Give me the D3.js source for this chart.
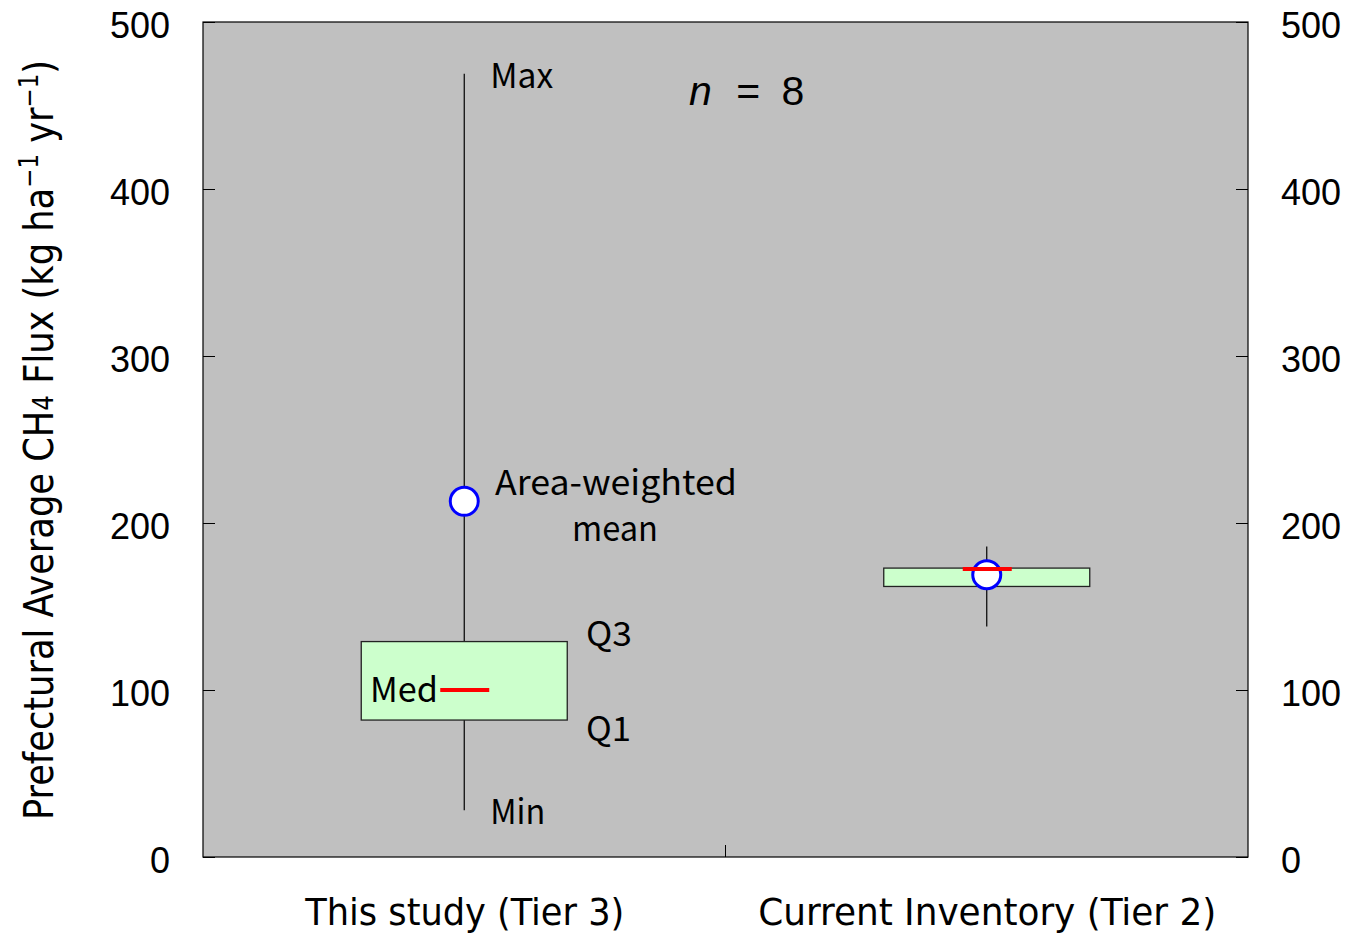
<!DOCTYPE html>
<html><head><meta charset="utf-8">
<script src="https://cdn.jsdelivr.net/npm/d3@7"></script>
<style>body{margin:0;background:#fff}</style>
</head><body>
<script>
const categories = ["This study (Tier 3)", "Current Inventory (Tier 2)"];
const minV  = [28, 138];
const q1V   = [82, 162];
const medV  = [100, 172.5];
const q3V   = [129, 173];
const maxV  = [469, 186];
const meanV = [213, 169];
const yTicks = [0, 100, 200, 300, 400, 500];

const W = 1346, H = 934;
const m = {l:203, r:1248, t:22, b:857};
const svg = d3.select("body").append("svg").attr("width", W).attr("height", H);
const x = d3.scalePoint().domain(categories).range([m.l, m.r]).padding(0.5);
const y = d3.scaleLinear().domain([0, 500]).range([m.b, m.t]);

svg.append("rect").attr("x", m.l).attr("y", m.t).attr("width", m.r - m.l).attr("height", m.b - m.t)
  .attr("fill", "#c0c0c0").attr("stroke", "#000").attr("stroke-width", 1.2);

const tickFont = "'Liberation Sans', Arial, sans-serif";
const gl = svg.append("g").attr("transform", `translate(${m.l},0)`)
  .call(d3.axisLeft(y).tickValues(yTicks).tickSizeInner(-12).tickSizeOuter(0).tickPadding(33));
gl.select(".domain").remove();
gl.selectAll("text").attr("font-family", tickFont).attr("font-size", 36).attr("fill", "#000").attr("dy", "0.42em");
const gr = svg.append("g").attr("transform", `translate(${m.r},0)`)
  .call(d3.axisRight(y).tickValues(yTicks).tickSizeInner(-12).tickSizeOuter(0).tickPadding(33));
gr.select(".domain").remove();
gr.selectAll("text").attr("font-family", tickFont).attr("font-size", 36).attr("fill", "#000").attr("dy", "0.42em");
svg.selectAll(".tick line").attr("stroke", "#000");

const gb = svg.append("g").attr("transform", `translate(0,${m.b})`)
  .call(d3.axisBottom(x).tickSize(0).tickPadding(41));
gb.select(".domain").remove();
const xLens = [319, 458];
gb.selectAll("text").attr("font-family", "'DejaVu Sans Condensed', 'Liberation Sans Narrow', sans-serif")
  .attr("font-size", 38).attr("fill", "#000")
  .attr("textLength", (d, i) => xLens[i]).attr("lengthAdjust", "spacingAndGlyphs");
svg.append("line").attr("x1", (m.l + m.r) / 2).attr("x2", (m.l + m.r) / 2)
  .attr("y1", m.b).attr("y2", m.b - 12).attr("stroke", "#000");

const idx = d3.range(categories.length);
const boxW = 206, medW = 50;
const g = svg.append("g");
idx.forEach(i => {
  const cx = x(categories[i]);
  g.append("line").attr("x1", cx).attr("x2", cx).attr("y1", y(minV[i])).attr("y2", y(maxV[i]))
    .attr("stroke", "#000").attr("stroke-width", 1.2);
  g.append("rect").attr("x", cx - boxW / 2).attr("width", boxW)
    .attr("y", y(q3V[i])).attr("height", y(q1V[i]) - y(q3V[i]))
    .attr("fill", "#ccffcc").attr("stroke", "#222").attr("stroke-width", 1.3);
});
idx.forEach(i => {
  const cx = x(categories[i]);
  const circ = g.append("circle").attr("cx", cx).attr("cy", y(meanV[i])).attr("r", 14)
    .attr("fill", "#fff").attr("stroke", "#0000ff").attr("stroke-width", 3);
  const ml = g.append("line").attr("x1", cx - medW / 2 + 1).attr("x2", cx + medW / 2)
    .attr("y1", y(medV[i])).attr("y2", y(medV[i])).attr("stroke", "#ff0000").attr("stroke-width", 4);
  if (i === 1) ml.raise();
  else circ.raise();
});

const annFont = "'Noto Sans CJK JP', 'Noto Sans', sans-serif";
const c0 = x(categories[0]);
function ann(t, xx, yy, size, len) {
  const el = svg.append("text").attr("x", xx).attr("y", yy).attr("font-family", annFont)
    .attr("font-size", size).attr("fill", "#000").text(t);
  if (len) el.attr("textLength", len).attr("lengthAdjust", "spacingAndGlyphs");
  return el;
}
ann("Max", c0 + 26, y(maxV[0]) + 14, 34, 63);
ann("Min", c0 + 26, y(minV[0]) + 14, 34, 55);
ann("Q3", 586, y(q3V[0]) + 4, 34, 46);
ann("Q1", 586, y(q1V[0]) + 21, 34, 45);
ann("Med", 370, y(medV[0]) + 12, 34, 68);
ann("Area-weighted", 495, 495, 34, 242);
ann("mean", 572, 541, 34, 86);

const nt = svg.append("text").attr("x", 689).attr("y", 105).attr("font-family", "'Liberation Sans', Arial, sans-serif")
  .attr("font-size", 41).attr("fill", "#000");
nt.append("tspan").attr("font-style", "italic").text("n");
nt.append("tspan").text(" = 8").attr("dx", 8).attr("letter-spacing", 5);

const yl = svg.append("text").attr("transform", "translate(53,440) rotate(-90)")
  .attr("text-anchor", "middle").attr("font-family", "'DejaVu Sans Condensed', 'Liberation Sans Narrow', sans-serif")
  .attr("font-size", 40).attr("fill", "#000")
  .attr("textLength", 760).attr("lengthAdjust", "spacingAndGlyphs");
yl.append("tspan").text("Prefectural Average CH");
yl.append("tspan").text("4").attr("font-size", 28);
yl.append("tspan").text(" Flux (kg ha");
yl.append("tspan").text("−1").attr("font-size", 26).attr("baseline-shift", "super");
yl.append("tspan").text(" yr");
yl.append("tspan").text("−1").attr("font-size", 26).attr("baseline-shift", "super");
yl.append("tspan").text(")");
</script>
</body></html>
